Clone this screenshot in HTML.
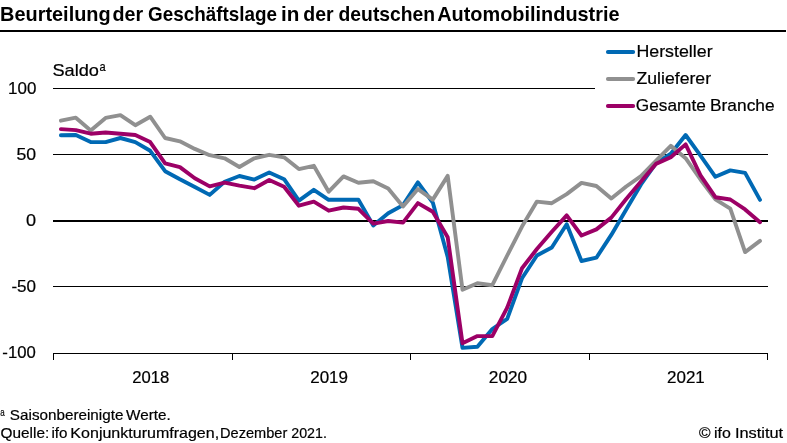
<!DOCTYPE html>
<html lang="de"><head><meta charset="utf-8"><title>Beurteilung der Geschäftslage in der deutschen Automobilindustrie</title>
<style>
html,body{margin:0;padding:0;background:#fff;}
body{width:787px;height:443px;overflow:hidden;position:relative;font-family:"Liberation Sans",sans-serif;color:#000;}
svg{position:absolute;left:0;top:0;display:block;}
text{font-family:"Liberation Sans",sans-serif;fill:#000;stroke:#000;stroke-width:0.2px;}
.b{font-weight:bold;stroke:none;}
</style></head><body>
<svg width="787" height="443" viewBox="0 0 787 443">
<rect width="787" height="443" fill="#fff"/>
<text x="0.03" y="21.2" textLength="110.65" lengthAdjust="spacingAndGlyphs" font-size="20.6" class="b">Beurteilung</text>
<text x="112.47" y="21.2" textLength="30.65" lengthAdjust="spacingAndGlyphs" font-size="20.6" class="b">der</text>
<text x="148.09" y="21.2" textLength="128.99" lengthAdjust="spacingAndGlyphs" font-size="20.6" class="b">Geschäftslage</text>
<text x="281.06" y="21.2" textLength="18.36" lengthAdjust="spacingAndGlyphs" font-size="20.6" class="b">in</text>
<text x="303.24" y="21.2" textLength="30.32" lengthAdjust="spacingAndGlyphs" font-size="20.6" class="b">der</text>
<text x="338.59" y="21.2" textLength="96.56" lengthAdjust="spacingAndGlyphs" font-size="20.6" class="b">deutschen</text>
<text x="437.20" y="21.2" textLength="182.37" lengthAdjust="spacingAndGlyphs" font-size="20.6" class="b">Automobilindustrie</text>
<text x="52.46" y="76.0" textLength="46.50" lengthAdjust="spacingAndGlyphs" font-size="15.7">Saldo</text>
<text x="99.40" y="70.6" textLength="6.13" lengthAdjust="spacingAndGlyphs" font-size="13.5">a</text>
<text x="8.14" y="93.5" textLength="28.32" lengthAdjust="spacingAndGlyphs" font-size="15.7">100</text>
<text x="16.52" y="159.7" textLength="19.63" lengthAdjust="spacingAndGlyphs" font-size="15.7">50</text>
<text x="26.01" y="226.0" textLength="10.07" lengthAdjust="spacingAndGlyphs" font-size="15.7">0</text>
<text x="11.44" y="292.2" textLength="24.64" lengthAdjust="spacingAndGlyphs" font-size="15.7">-50</text>
<text x="2.32" y="358.2" textLength="33.46" lengthAdjust="spacingAndGlyphs" font-size="15.7">-100</text>
<text x="132.16" y="383.0" textLength="37.08" lengthAdjust="spacingAndGlyphs" font-size="15.7">2018</text>
<text x="310.18" y="383.0" textLength="37.83" lengthAdjust="spacingAndGlyphs" font-size="15.7">2019</text>
<text x="488.82" y="383.0" textLength="38.35" lengthAdjust="spacingAndGlyphs" font-size="15.7">2020</text>
<text x="667.00" y="383.0" textLength="37.79" lengthAdjust="spacingAndGlyphs" font-size="15.7">2021</text>
<text x="636.45" y="56.7" textLength="76.16" lengthAdjust="spacingAndGlyphs" font-size="15.7">Hersteller</text>
<text x="636.56" y="83.8" textLength="74.47" lengthAdjust="spacingAndGlyphs" font-size="15.7">Zulieferer</text>
<text x="635.88" y="110.5" textLength="69.88" lengthAdjust="spacingAndGlyphs" font-size="15.7">Gesamte</text>
<text x="710.04" y="110.5" textLength="64.54" lengthAdjust="spacingAndGlyphs" font-size="15.7">Branche</text>
<text x="0.31" y="415.8" textLength="4.43" lengthAdjust="spacingAndGlyphs" font-size="11">a</text>
<text x="9.86" y="420.2" textLength="113.51" lengthAdjust="spacingAndGlyphs" font-size="14.8">Saisonbereinigte</text>
<text x="126.08" y="420.2" textLength="44.62" lengthAdjust="spacingAndGlyphs" font-size="14.8">Werte.</text>
<text x="0.56" y="438.0" textLength="48.66" lengthAdjust="spacingAndGlyphs" font-size="14.8">Quelle:</text>
<text x="51.42" y="438.0" textLength="16.02" lengthAdjust="spacingAndGlyphs" font-size="14.8">ifo</text>
<text x="70.36" y="438.0" textLength="148.79" lengthAdjust="spacingAndGlyphs" font-size="14.8">Konjunkturumfragen,</text>
<text x="220.08" y="438.0" textLength="67.26" lengthAdjust="spacingAndGlyphs" font-size="14.8">Dezember</text>
<text x="291.25" y="438.0" textLength="35.64" lengthAdjust="spacingAndGlyphs" font-size="14.8">2021.</text>
<text x="699.10" y="438.0" textLength="11.53" lengthAdjust="spacingAndGlyphs" font-size="14.8">©</text>
<text x="714.02" y="438.0" textLength="16.83" lengthAdjust="spacingAndGlyphs" font-size="14.8">ifo</text>
<text x="734.93" y="438.0" textLength="48.22" lengthAdjust="spacingAndGlyphs" font-size="14.8">Institut</text>
<rect x="0" y="30" width="786" height="2" fill="#000"/>
<g fill="#000" shape-rendering="crispEdges">
<rect x="53" y="88" width="542" height="1"/>
<rect x="53" y="154" width="715" height="1"/>
<rect x="53" y="220" width="715" height="2"/>
<rect x="53" y="286" width="715" height="1"/>
<rect x="53" y="353" width="715" height="1"/>
<rect x="53" y="353" width="1" height="7"/>
<rect x="232" y="353" width="1" height="7"/>
<rect x="410" y="353" width="1" height="7"/>
<rect x="589" y="353" width="1" height="7"/>
<rect x="767" y="353" width="1" height="7"/>
</g>
<g fill="none" stroke-width="3.9" stroke-linecap="round" stroke-linejoin="round">
<polyline stroke="#0069B4" points="60.9,135.2 75.8,135.0 90.7,142.1 105.6,142.1 120.4,138.0 135.3,142.1 150.2,150.8 165.1,171.2 179.9,179.3 194.8,187.0 209.7,194.9 224.6,181.7 239.4,176.0 254.3,179.6 269.2,172.5 284.1,179.2 298.9,200.6 313.8,189.8 328.7,199.8 343.5,199.8 358.4,199.6 373.3,225.5 388.2,213.3 403.0,205.1 417.9,182.4 432.8,202.6 447.7,257.0 462.5,347.9 477.4,346.8 492.3,329.0 507.2,318.8 522.0,278.3 536.9,255.5 551.8,247.5 566.7,224.2 581.5,261.0 596.4,257.7 611.3,234.9 626.2,209.5 641.0,184.5 655.9,163.3 670.8,153.7 685.6,135.0 700.5,155.7 715.4,176.8 730.3,170.4 745.1,172.9 760.0,199.9"/>
<polyline stroke="#909090" points="60.9,120.7 75.8,117.7 90.7,130.5 105.6,117.9 120.4,115.2 135.3,125.2 150.2,116.7 165.1,138.0 179.9,141.3 194.8,148.9 209.7,155.2 224.6,158.3 239.4,167.0 254.3,158.3 269.2,154.8 284.1,157.3 298.9,169.1 313.8,165.8 328.7,191.7 343.5,176.4 358.4,182.8 373.3,181.3 388.2,188.5 403.0,206.4 417.9,189.1 432.8,199.6 447.7,175.9 462.5,289.7 477.4,283.2 492.3,285.2 507.2,255.5 522.0,226.6 536.9,201.6 551.8,203.2 566.7,194.1 581.5,182.9 596.4,186.0 611.3,198.5 626.2,186.5 641.0,176.1 655.9,160.8 670.8,145.8 685.6,158.2 700.5,179.5 715.4,199.3 730.3,208.7 745.1,252.1 760.0,240.9"/>
<polyline stroke="#9C0066" points="60.9,129.1 75.8,130.1 90.7,133.7 105.6,132.5 120.4,133.7 135.3,135.0 150.2,142.1 165.1,163.4 179.9,167.1 194.8,178.3 209.7,186.4 224.6,182.7 239.4,185.7 254.3,188.2 269.2,180.0 284.1,186.8 298.9,205.7 313.8,201.6 328.7,210.7 343.5,207.5 358.4,208.8 373.3,223.6 388.2,221.0 403.0,222.6 417.9,203.1 432.8,211.8 447.7,237.3 462.5,343.2 477.4,336.1 492.3,336.1 507.2,307.6 522.0,268.3 536.9,249.0 551.8,231.7 566.7,215.4 581.5,235.5 596.4,229.4 611.3,217.6 626.2,199.0 641.0,181.5 655.9,163.9 670.8,157.2 685.6,144.4 700.5,175.3 715.4,197.2 730.3,199.5 745.1,209.4 760.0,222.2"/>
<line x1="607.9" y1="52" x2="633.2" y2="52" stroke="#0069B4"/>
<line x1="607.9" y1="79" x2="633.2" y2="79" stroke="#909090"/>
<line x1="607.9" y1="106" x2="633.2" y2="106" stroke="#9C0066"/>
</g>

</svg>
</body></html>
